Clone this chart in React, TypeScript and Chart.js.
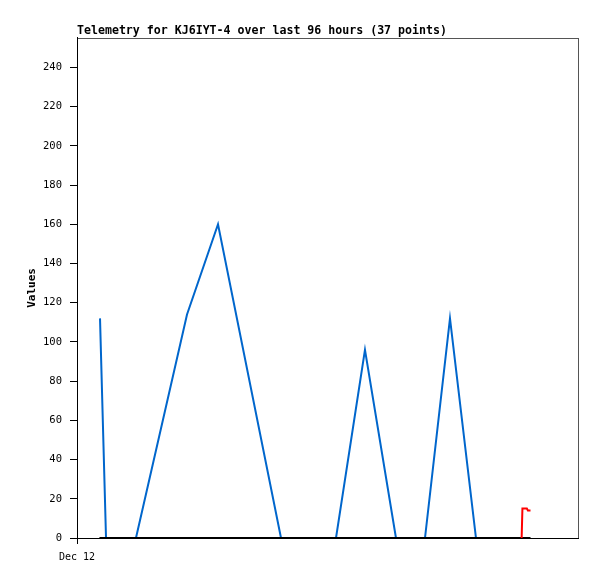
import React, { useEffect, useRef } from "react";
import { Chart, registerables } from "chart.js";

Chart.register(...registerables);

const titleText = "Telemetry for KJ6IYT-4 over last 96 hours (37 points)";
const yAxisLabel = "Values";
const xTickLabels = ["Dec 12"];
const xTickHours = [0];

// hours since Dec 12 00:00
const blueHours = [4.41, 5.56, 11.3, 21.08, 27.02, 39.09, 49.63, 55.18, 61.12, 66.68, 71.47, 76.45];
const blueValues = [112, 0, 0, 114, 160, 0, 0, 96, 0, 0, 112, 0];

const blackHours = [4.3, 11.3, 21.08, 27.02, 39.09, 49.63, 55.18, 61.12, 66.68, 71.47, 76.45, 85.2, 86.9];
const blackValues = [0, 0, 0, 0, 0, 0, 0, 0, 0, 0, 0, 0, 0];

const redHours = [85.2, 85.35, 86.2, 86.4, 86.9];
const redValues = [0, 15, 15, 14, 14];

const toPoints = (xs: number[], ys: number[]) => xs.map((x, i) => ({ x, y: ys[i] }));

const framePlugin = {
  id: "frame",
  beforeDraw(chart: any) {
    const { ctx, chartArea } = chart;
    ctx.save();
    ctx.strokeStyle = "#555";
    ctx.lineWidth = 1;
    ctx.strokeRect(
      Math.round(chartArea.left) + 0.5,
      Math.round(chartArea.top) + 0.5,
      Math.round(chartArea.right - chartArea.left),
      Math.round(chartArea.bottom - chartArea.top)
    );
    ctx.restore();
  },
};

export default function App() {
  const ref = useRef<HTMLCanvasElement>(null);

  useEffect(() => {
    document.body.style.margin = "0";
    const canvas = ref.current;
    if (!canvas) return;
    Chart.defaults.color = "#000";
    const chart = new Chart(canvas, {
      type: "line",
      data: {
        datasets: [
          {
            data: toPoints(blueHours, blueValues),
            borderColor: "#0066cc",
            borderWidth: 2,
            pointRadius: 0,
            tension: 0,
            order: 2,
          },
          {
            data: toPoints(blackHours, blackValues),
            borderColor: "#000000",
            borderWidth: 2,
            pointRadius: 0,
            tension: 0,
            order: 1,
          },
          {
            data: toPoints(redHours, redValues),
            borderColor: "#ff0000",
            borderWidth: 2,
            pointRadius: 0,
            tension: 0,
            order: 0,
          },
        ],
      },
      options: {
        responsive: false,
        animation: false,
        events: [],
        layout: { padding: { left: 0, right: 19, top: 0, bottom: 0 } },
        plugins: {
          legend: { display: false },
          tooltip: { enabled: false },
          title: {
            display: true,
            text: titleText,
            align: "start",
            fullSize: false,
            color: "#000",
            font: { family: "'DejaVu Sans Mono', monospace", size: 11.6, weight: "bold" },
            padding: { top: 24, bottom: 0 },
          },
        },
        scales: {
          x: {
            type: "linear",
            min: 0,
            max: 96,
            afterBuildTicks: (scale: any) => {
              scale.ticks = xTickHours.map((v) => ({ value: v }));
            },
            afterFit: (scale: any) => {
              scale.height = 41;
            },
            ticks: {
              color: "#000",
              padding: 7,
              maxRotation: 0,
              font: { family: "'DejaVu Sans Mono', monospace", size: 10 },
              callback: (v: any) => {
                const i = xTickHours.indexOf(Number(v));
                return i >= 0 ? xTickLabels[i] : "";
              },
            },
            grid: { drawOnChartArea: false, drawTicks: true, tickLength: 6, color: "#000" },
            border: { display: true, color: "#000", width: 1 },
          },
          y: {
            min: 0,
            max: 255,
            afterFit: (scale: any) => {
              scale.width = 77;
            },
            ticks: {
              stepSize: 20,
              includeBounds: false,
              color: "#000",
              padding: 8,
              font: { family: "'DejaVu Sans Mono', monospace", size: 10.5 },
            },
            title: {
              display: true,
              text: yAxisLabel,
              color: "#000",
              font: { family: "'DejaVu Sans Mono', monospace", size: 11, weight: "bold" },
              padding: { top: 26, bottom: 0 },
            },
            grid: { drawOnChartArea: false, drawTicks: true, tickLength: 7, color: "#000" },
            border: { display: true, color: "#000", width: 1 },
          },
        },
      },
      plugins: [framePlugin],
    });
    return () => chart.destroy();
  }, []);

  return <canvas ref={ref} width={597} height={579} style={{ display: "block" }} />;
}
